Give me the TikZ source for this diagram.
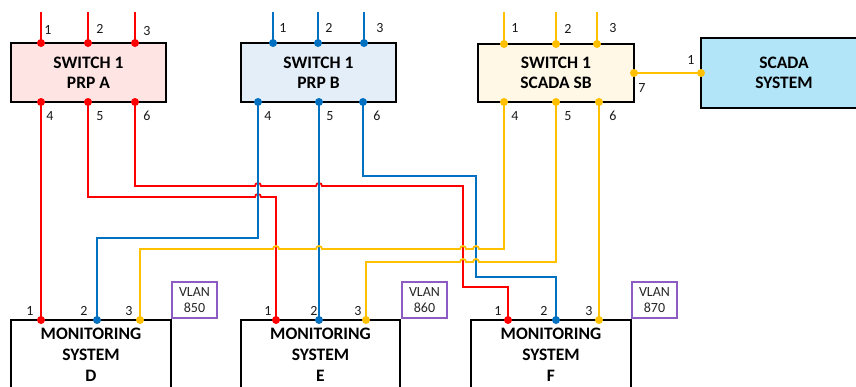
\documentclass[tikz,border=0pt]{standalone}
\usepackage{fontspec}
\setmainfont{Carlito}
\usetikzlibrary{calc}
\definecolor{wred}{HTML}{FF0000}
\definecolor{wblue}{HTML}{0070C0}
\definecolor{wyel}{HTML}{FFC000}
\definecolor{fillA}{HTML}{FFE4E4}
\definecolor{fillB}{HTML}{E4EEF8}
\definecolor{fillC}{HTML}{FFF8E6}
\definecolor{fillS}{HTML}{B3E5F8}
\definecolor{vlanc}{HTML}{8C5CC4}
\begin{document}
\begin{tikzpicture}[x=1pt,y=1pt,
  box/.style={draw=black, line width=1.5pt, align=center, inner sep=0pt,
    font=\fontsize{17.5}{20}\selectfont\bfseries},
  wire/.style={line width=1.8pt},
  port/.style={circle, fill, inner sep=0pt, minimum size=8pt},
  plab/.style={font=\fontsize{14}{14}\selectfont, inner sep=0pt, text=black!90},
  vlan/.style={draw=vlanc, line width=1.1pt, minimum width=45pt, minimum height=36pt,
    align=center, inner sep=0pt, font=\fontsize{14}{16}\selectfont, text=black!85}]
\useasboundingbox (0,0) rectangle (856,-386);
\clip (0,0) rectangle (856,-386);

% boxes
\node[box, fill=fillA, minimum width=155pt, minimum height=59pt] (swA) at (88.5,-72.5) {SWITCH 1\\PRP A};
\node[box, fill=fillB, minimum width=155pt, minimum height=59pt] (swB) at (318.5,-72.5) {SWITCH 1\\PRP B};
\node[box, fill=fillC, minimum width=156pt, minimum height=58pt] (swC) at (556,-73) {SWITCH 1\\SCADA SB};
\node[box, fill=fillS, minimum width=166pt, minimum height=70pt] (scada) at (784,-73) {SCADA\\SYSTEM};
\node[box, fill=white, minimum width=160pt, minimum height=70pt, font=\fontsize{17.5}{21}\selectfont\bfseries] (monD) at (91,-355) {MONITORING\\SYSTEM\\D};
\node[box, fill=white, minimum width=159pt, minimum height=70pt, font=\fontsize{17.5}{21}\selectfont\bfseries] (monE) at (320.5,-355) {MONITORING\\SYSTEM\\E};
\node[box, fill=white, minimum width=160pt, minimum height=70pt, font=\fontsize{17.5}{21}\selectfont\bfseries] (monF) at (551,-355) {MONITORING\\SYSTEM\\F};
\node[vlan] (vD) at (194.5,-300) {VLAN\\850};
\node[vlan] (vE) at (424.5,-300) {VLAN\\860};
\node[vlan] (vF) at (654.5,-300) {VLAN\\870};

% port coordinates
\coordinate (A1) at (41,-43);  \coordinate (A2) at (88,-43);  \coordinate (A3) at (135,-43);
\coordinate (A4) at (41,-102); \coordinate (A5) at (88,-102); \coordinate (A6) at (135,-102);
\coordinate (B1) at (273,-43); \coordinate (B2) at (318,-43); \coordinate (B3) at (364,-43);
\coordinate (B4) at (258,-102);\coordinate (B5) at (319,-102);\coordinate (B6) at (363,-102);
\coordinate (C1) at (504,-44); \coordinate (C2) at (556,-44); \coordinate (C3) at (597,-44);
\coordinate (C4) at (504,-102);\coordinate (C5) at (556,-102);\coordinate (C6) at (599,-102);
\coordinate (C7) at (634,-73); \coordinate (S1) at (701,-73);
\coordinate (D1) at (41,-320); \coordinate (D2) at (97,-320); \coordinate (D3) at (140,-320);
\coordinate (E1) at (276,-320);\coordinate (E2) at (319,-320);\coordinate (E3) at (366,-320);
\coordinate (F1) at (508,-320);\coordinate (F2) at (556,-320);\coordinate (F3) at (599,-320);

% top leads
\foreach \p in {A1,A2,A3} \draw[wire, wred] (\p) -- ++(0,31);
\foreach \p in {B1,B2,B3} \draw[wire, wblue] (\p) -- ++(0,31);
\foreach \p in {C1,C2,C3} \draw[wire, wyel] (\p) -- ++(0,32);

% red wires
\draw[wire, wred] (A4) -- (D1);
\draw[wire, wred] (A5) -- (88,-197) -- (255,-197) arc[start angle=180,end angle=0,radius=3] -- (E1 |- 0,-197) -- (E1);
\draw[wire, wred] (A6) -- (135,-186) -- (255,-186) arc[start angle=180,end angle=0,radius=3]
  -- (316,-186) arc[start angle=180,end angle=0,radius=3] -- (463,-186) -- (463,-287) -- (F1 |- 0,-287) -- (F1);
% blue wires
\draw[wire, wblue] (B4) -- (258,-238) -- (D2 |- 0,-238) -- (D2);
\draw[wire, wblue] (B5) -- (E2);
\draw[wire, wblue] (B6) -- (363,-176) -- (476,-176) -- (476,-277) -- (F2 |- 0,-277) -- (F2);
% yellow wires
\draw[wire, wyel] (C4) -- (504,-249) -- (479,-249) arc[start angle=0,end angle=180,radius=3]
  -- (466,-249) arc[start angle=0,end angle=180,radius=3]
  -- (322,-249) arc[start angle=0,end angle=180,radius=3]
  -- (279,-249) arc[start angle=0,end angle=180,radius=3]
  -- (D3 |- 0,-249) -- (D3);
\draw[wire, wyel] (C5) -- (556,-262) -- (479,-262) arc[start angle=0,end angle=180,radius=3]
  -- (466,-262) arc[start angle=0,end angle=180,radius=3]
  -- (E3 |- 0,-262) -- (E3);
\draw[wire, wyel] (C6) -- (F3);
\draw[wire, wyel] (C7) -- (S1);

% port dots
\foreach \p in {A1,A2,A3,A4,A5,A6,D1,E1,F1} \node[port, wred] at (\p) {};
\foreach \p in {B1,B2,B3,B4,B5,B6,D2,E2,F2} \node[port, wblue] at (\p) {};
\foreach \p in {C1,C2,C3,C4,C5,C6,C7,S1,D3,E3,F3} \node[port, wyel] at (\p) {};

% port labels
\foreach \n/\x/\y in {1/48/30,2/100/29,3/147/31,4/50/116,5/100/116,6/147/116,
  1/283/28,2/329/28,3/380/28,4/268/116,5/330/116,6/377/116,
  1/515/28,2/568/29,3/613/28,4/515/116,5/568/116,6/613/116,7/642/88,1/691/60,
  1/30/311,2/84/311,3/129/311,1/268/311,2/314/311,3/358/311,1/498/311,2/544/311,3/589/311}
  \node[plab] (l\x) at (\x,-\y) {\n};
\end{tikzpicture}
\end{document}
